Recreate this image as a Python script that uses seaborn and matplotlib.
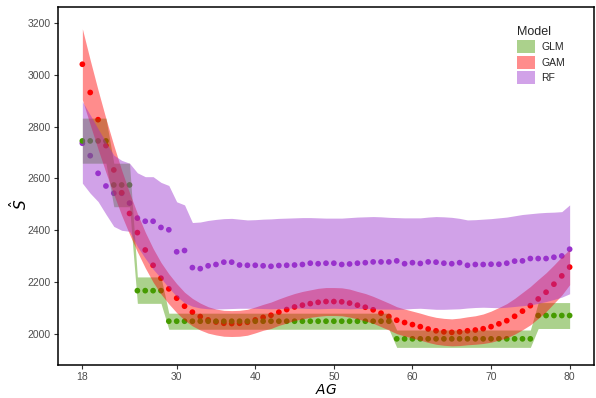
import numpy as np
import pandas as pd
import matplotlib
matplotlib.use("Agg")
import matplotlib.pyplot as plt
from matplotlib.patches import Patch
import seaborn as sns

# Age grid
age = list(range(18, 81))

# GLM: predicted value and interval (step-shaped)
glm_fit = [2745, 2745, 2745, 2745, 2575, 2575, 2575, 2167, 2167, 2167, 2167,
           2049, 2049, 2049, 2049, 2049, 2049, 2049, 2049, 2049, 2049, 2049,
           2049, 2049, 2049, 2049, 2049, 2049, 2049, 2049, 2049, 2049, 2049,
           2049, 2049, 2049, 2049, 2049, 2049, 2049,
           1981, 1981, 1981, 1981, 1981, 1981, 1981, 1981, 1981, 1981, 1981,
           1981, 1981, 1981, 1981, 1981, 1981, 1981,
           2071, 2071, 2071, 2071, 2071]
glm_lo = [2659, 2659, 2659, 2659, 2491, 2491, 2491, 2118, 2118, 2118, 2118,
          2018, 2018, 2018, 2018, 2018, 2018, 2018, 2018, 2018, 2018, 2018,
          2018, 2018, 2018, 2018, 2018, 2018, 2018, 2018, 2018, 2018, 2018,
          2018, 2018, 2018, 2018, 2018, 2018, 2018,
          1948, 1948, 1948, 1948, 1948, 1948, 1948, 1948, 1948, 1948, 1948,
          1948, 1948, 1948, 1948, 1948, 1948, 1948,
          2021, 2021, 2021, 2021, 2021]
glm_hi = [2833, 2833, 2833, 2833, 2659, 2659, 2659, 2220, 2220, 2220, 2220,
          2080, 2080, 2080, 2080, 2080, 2080, 2080, 2080, 2080, 2080, 2080,
          2080, 2080, 2080, 2080, 2080, 2080, 2080, 2080, 2080, 2080, 2080,
          2080, 2080, 2080, 2080, 2080, 2080, 2080,
          2015, 2015, 2015, 2015, 2015, 2015, 2015, 2015, 2015, 2015, 2015,
          2015, 2015, 2015, 2015, 2015, 2015, 2015,
          2121, 2121, 2121, 2121, 2121]

# GAM: smooth fit with confidence band
gam_fit = [3041, 2932, 2827, 2727, 2633, 2545, 2465, 2391, 2324, 2265, 2215,
           2174, 2138, 2107, 2084, 2067, 2054, 2046, 2041, 2040, 2041, 2045,
           2054, 2064, 2072, 2084, 2094, 2104, 2111, 2117, 2122, 2125, 2125,
           2124, 2119, 2111, 2103, 2093, 2080, 2067, 2053, 2044, 2036, 2028,
           2019, 2012, 2008, 2006, 2008, 2012, 2015, 2020, 2028, 2039, 2051,
           2068, 2088, 2109, 2135, 2161, 2192, 2224, 2258]
gam_lo = [2904, 2807, 2713, 2623, 2538, 2458, 2385, 2317, 2255, 2200, 2154,
          2116, 2082, 2053, 2031, 2015, 2003, 1996, 1991, 1990, 1991, 1995,
          2004, 2014, 2021, 2033, 2042, 2052, 2058, 2064, 2068, 2071, 2071,
          2070, 2065, 2058, 2050, 2041, 2028, 2015, 2001, 1992, 1984, 1976,
          1967, 1960, 1956, 1954, 1955, 1958, 1960, 1963, 1968, 1976, 1985,
          1999, 2016, 2035, 2060, 2086, 2118, 2150, 2190]
gam_hi = [3178, 3057, 2941, 2831, 2728, 2632, 2545, 2465, 2393, 2330, 2276,
          2232, 2194, 2161, 2137, 2119, 2105, 2096, 2091, 2090, 2091, 2095,
          2104, 2114, 2123, 2135, 2146, 2156, 2164, 2170, 2176, 2179, 2179,
          2178, 2173, 2164, 2156, 2145, 2132, 2119, 2105, 2096, 2088, 2080,
          2071, 2064, 2060, 2058, 2061, 2066, 2070, 2077, 2088, 2102, 2117,
          2137, 2160, 2183, 2210, 2236, 2266, 2298, 2326]

# RF: prediction and interval
rf_fit = [2736, 2688, 2620, 2571, 2543, 2543, 2505, 2447, 2435, 2435, 2411,
          2402, 2317, 2322, 2256, 2252, 2263, 2268, 2277, 2277, 2266, 2265,
          2265, 2263, 2261, 2264, 2265, 2266, 2268, 2273, 2271, 2273, 2273,
          2268, 2270, 2273, 2275, 2278, 2278, 2278, 2282, 2271, 2275, 2272,
          2278, 2277, 2273, 2271, 2275, 2265, 2268, 2268, 2269, 2269, 2273,
          2281, 2282, 2291, 2291, 2291, 2296, 2301, 2327]
rf_lo = [2582, 2543, 2511, 2462, 2415, 2400, 2396, 2337, 2292, 2250, 2215,
         2178, 2145, 2120, 2107, 2100, 2097, 2096, 2097, 2098, 2099, 2099,
         2099, 2098, 2097, 2098, 2099, 2100, 2099, 2098, 2097, 2098, 2099,
         2098, 2097, 2098, 2098, 2097, 2096, 2096, 2095, 2096, 2098, 2099,
         2097, 2095, 2095, 2096, 2097, 2100, 2102, 2103, 2102, 2101, 2103,
         2106, 2109, 2112, 2118, 2125, 2133, 2142, 2155]
rf_hi = [2897, 2845, 2792, 2740, 2690, 2670, 2659, 2622, 2607, 2607, 2585,
         2573, 2510, 2498, 2430, 2432, 2438, 2442, 2445, 2446, 2443, 2440,
         2441, 2443, 2444, 2446, 2447, 2448, 2449, 2449, 2448, 2447, 2447,
         2447, 2449, 2451, 2452, 2453, 2452, 2450, 2449, 2448, 2448, 2448,
         2451, 2453, 2452, 2450, 2446, 2440, 2441, 2443, 2445, 2448, 2451,
         2456, 2461, 2464, 2467, 2469, 2470, 2472, 2498]

models = ["GLM", "GAM", "RF"]
point_colors = {"GLM": "#459B00", "GAM": "#FF0000", "RF": "#9932CC"}
band_alpha = 0.45

fits = {"GLM": glm_fit, "GAM": gam_fit, "RF": rf_fit}
bands = {"GLM": (glm_lo, glm_hi), "GAM": (gam_lo, gam_hi), "RF": (rf_lo, rf_hi)}

# long table, RF first so GLM points sit on top
frames = []
for m in ["RF", "GAM", "GLM"]:
    frames.append(pd.DataFrame({"AG": age, "S": fits[m], "Model": m}))
df = pd.concat(frames, ignore_index=True)

sns.set_style("white")
plt.rcParams["font.family"] = ["Liberation Sans", "DejaVu Sans"]

fig = plt.figure(figsize=(5.96, 3.98), dpi=100)
ax = fig.add_axes([58 / 596, 1 - 365 / 398, (594 - 58) / 596, (365 - 7) / 398])

sns.scatterplot(data=df, x="AG", y="S", hue="Model", palette=point_colors,
                s=17, linewidth=0, legend=False, ax=ax, zorder=2)

for m in models:
    lo, hi = bands[m]
    ax.fill_between(age, lo, hi, color=point_colors[m], alpha=band_alpha,
                    linewidth=0, zorder=3)

ax.set_xlim(14.9, 83.1)
ax.set_ylim(1880, 3262)
ax.set_xticks([18, 30, 40, 50, 60, 70, 80])
ax.set_yticks([2000, 2200, 2400, 2600, 2800, 3000, 3200])

for side in ax.spines.values():
    side.set_visible(True)
    side.set_color("black")
    side.set_linewidth(1.1)

ax.tick_params(axis="both", which="major", length=3, width=0.8,
               color="#333333", labelcolor="#4D4D4D", labelsize=7.5, pad=2,
               bottom=True, left=True)

ax.set_xlabel(r"$AG$", fontsize=10, labelpad=1, color="black")
ax.set_ylabel(r"$\hat{S}$", fontsize=11, color="black")
ax.yaxis.set_label_coords(-0.052, 0.45)

handles = [Patch(facecolor=point_colors[m], alpha=band_alpha, edgecolor="none")
           for m in models]
leg = ax.legend(handles, models, title="Model", loc="upper left",
                bbox_to_anchor=(517 / 596, 1 - 26 / 398),
                bbox_transform=fig.transFigure, frameon=False,
                fontsize=7.5, title_fontsize=9, handlelength=1.75,
                handleheight=1.6, labelspacing=0.2, handletextpad=0.6,
                borderpad=0, borderaxespad=0)
leg._legend_box.align = "left"

fig.savefig("out.png", dpi=100)
